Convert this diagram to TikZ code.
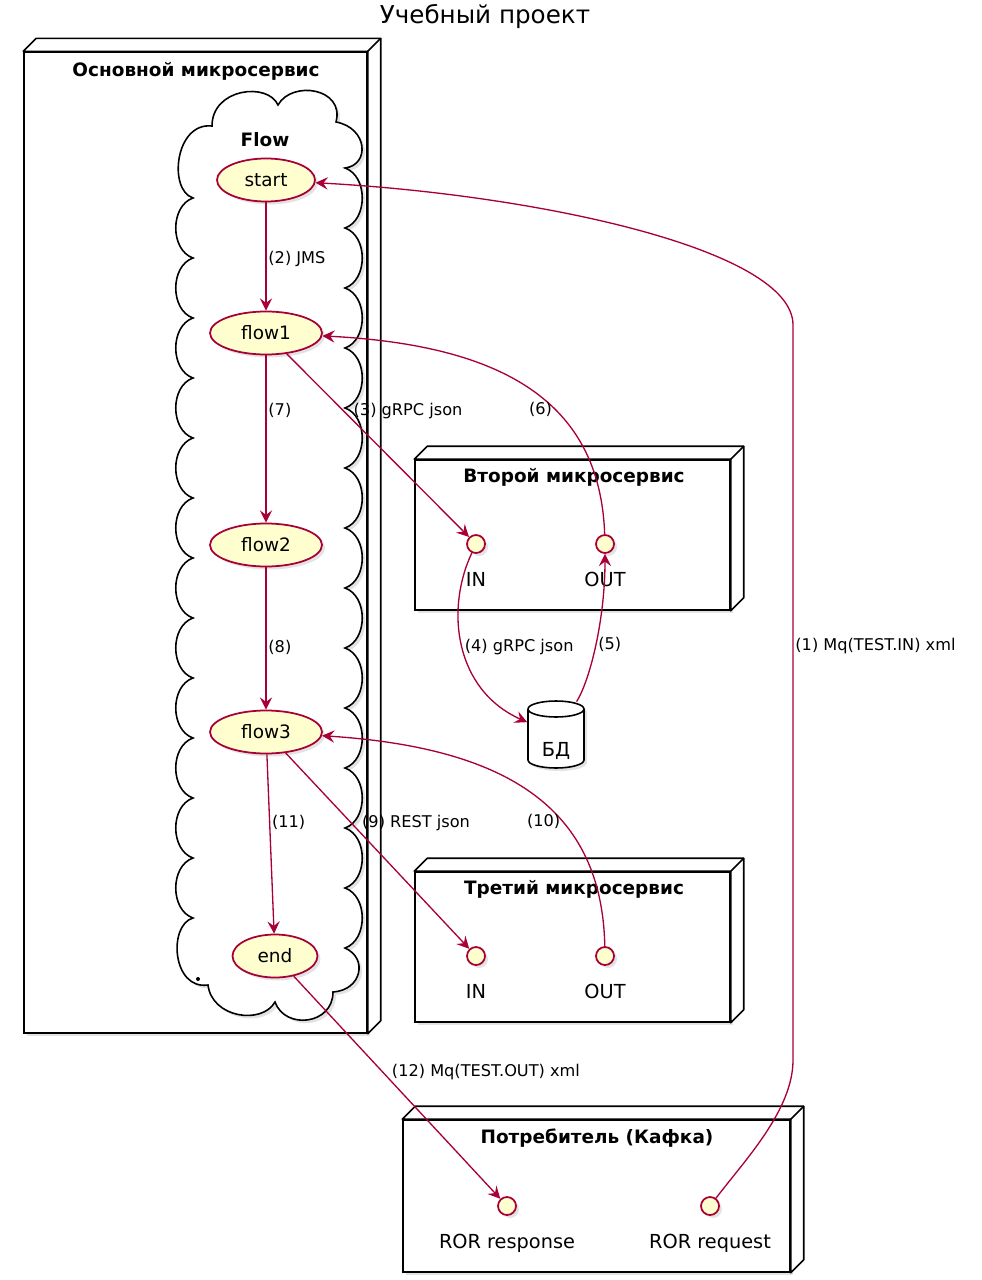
\documentclass[tikz,border=0pt]{standalone}
\usepackage{fontspec}
\setmainfont{DejaVu Sans}
\usetikzlibrary{calc,positioning,arrows.meta,shapes.geometric,shadows}
\definecolor{umlred}{HTML}{A80036}
\definecolor{umlfill}{HTML}{FEFECE}
\tikzset{
  shd/.style={drop shadow={opacity=0.22,shadow xshift=0.06cm,shadow yshift=-0.06cm}},
  srv/.style={rectangle,draw=black,line width=0.9pt,fill=white,inner sep=0pt,shd},
  srvback/.style={line width=0.9pt,black,line join=round},
  ttl/.style={font=\fontsize{10.5}{12}\selectfont\bfseries},
  cld/.style={draw=black,line width=0.9pt,fill=white,shd},
  uc/.style={ellipse,draw=umlred,line width=1pt,fill=umlfill,minimum height=0.86cm,inner sep=0pt,font=\fontsize{10.5}{12}\selectfont,shd},
  ifc/.style={circle,draw=umlred,line width=1pt,fill=umlfill,minimum size=0.36cm,inner sep=0pt,shd},
  ifclbl/.style={font=\fontsize{11}{13}\selectfont,inner sep=0pt,text height=0.75em,text depth=0.25em,label distance=0.38cm},
  dbline/.style={draw=black,line width=0.9pt,fill=white,shd},
  dbase/.style={rectangle,minimum width=1.14cm,minimum height=1.32cm,inner sep=0pt,text height=0.87cm,text depth=0pt,font=\fontsize{11}{13}\selectfont},
  lnk/.style={umlred,line width=0.75pt},
  arr/.style={lnk,-{Stealth[length=7pt,width=7pt,inset=2.6pt]}},
  lbl/.style={font=\fontsize{9.2}{11}\selectfont,inner sep=1pt,text=black},
}
\newcommand{\srvdepth}[1]{%
  \filldraw[srvback,fill=white] (#1.north west) -- ++(13,-13) -- ($(#1.north east)+(13,-13)$)
    -- ($(#1.south east)+(13,-13)$) -- (#1.south east) -- (#1.north east) -- cycle;
  \draw[srvback] (#1.north east) -- ++(13,-13);}

\begin{document}
\begin{tikzpicture}[x=0.02cm,y=-0.02cm]
  \useasboundingbox (0,0) rectangle (982,1280);
  \node[font=\fontsize{14}{16}\selectfont] (title) at (485,17) {Учебный проект};

  % main service with the flow cloud
  \node[srv,minimum width=6.86cm,minimum height=19.62cm] (main) at (195.5,542.5) {};
  \srvdepth{main}
  \node[ttl] (mainT) at (196,71) {Основной микросервис};
  \path[cld] (345,168)
    \foreach \y in {168,228,...,888} { .. controls (368,\y+8) and (368,\y+52) .. (345,\y+60) }
    .. controls (368,958) and (362,990) .. (333,992)
    .. controls (333,1025) and (285,1030) .. (275,1002)
    .. controls (262,1025) and (212,1018) .. (208,985)
    .. controls (172,990) and (168,925) .. (193,918)
    \foreach \y in {918,858,...,258} { .. controls (170,\y-8) and (170,\y-52) .. (193,\y-60) }
    .. controls (168,190) and (175,122) .. (212,126)
    .. controls (212,88) and (268,82) .. (278,105)
    .. controls (292,80) and (345,88) .. (336,122)
    .. controls (368,128) and (370,165) .. (345,168) -- cycle;
  \fill (198,979) circle (0.04cm);
  \node[ttl] (flowT) at (265,140) {Flow};
  \node[uc,minimum width=1.96cm] (start) at (266,180) {start};
  \node[uc,minimum width=2.24cm] (flow1) at (266,333) {flow1};
  \node[uc,minimum width=2.24cm] (flow2) at (266,545) {flow2};
  \node[uc,minimum width=2.24cm] (flow3) at (266,732) {flow3};
  \node[uc,minimum width=1.7cm] (flowend) at (275,956) {end};

  % second service and db
  \node[srv,minimum width=6.3cm,minimum height=3cm] (srv2) at (572.5,535) {};
  \srvdepth{srv2}
  \node[ttl] (srv2T) at (574,477) {Второй микросервис};
  \node[ifc,label={[ifclbl]below:IN}] (in2) at (476,544) {};
  \node[ifc,label={[ifclbl]below:OUT}] (out2) at (605,544) {};
  \draw[dbline] (528,709) -- (528,760) arc[start angle=180,end angle=360,x radius=0.56cm,y radius=0.16cm]
    -- (584,709) arc[start angle=0,end angle=180,x radius=0.56cm,y radius=0.16cm];
  \draw[line width=0.9pt] (528,709) arc[start angle=180,end angle=360,x radius=0.56cm,y radius=0.16cm];
  \node[dbase] (db) at (556,735) {БД};

  % third service
  \node[srv,minimum width=6.3cm,minimum height=3cm] (srv3) at (572.5,947) {};
  \srvdepth{srv3}
  \node[ttl] (srv3T) at (574,889) {Третий микросервис};
  \node[ifc,label={[ifclbl]below:IN}] (in3) at (476,956) {};
  \node[ifc,label={[ifclbl]below:OUT}] (out3) at (605,956) {};

  % consumer
  \node[srv,minimum width=7.74cm,minimum height=3.04cm] (kafka) at (596.5,1196) {};
  \srvdepth{kafka}
  \node[ttl] (kafkaT) at (597,1138) {Потребитель (Кафка)};
  \node[ifc,label={[ifclbl]below:ROR response}] (rresp) at (507,1206) {};
  \node[ifc,label={[ifclbl]below:ROR request}] (rreq) at (710,1206) {};

  % links
  \coordinate (c1a) at (793,1060);
  \coordinate (c1b) at (793,325);
  \draw[arr] (rreq) .. controls (745,1160) and (793,1110) .. (c1a) -- (c1b)
    node[lbl,pos=0.563,anchor=west]{(1) Mq(TEST.IN) xml}
    .. controls (793,250) and (540,195) .. (start);
  \draw[arr] (start) -- (flow1) node[lbl,pos=0.52,anchor=west]{(2) JMS};
  \draw[arr] (flow1) -- (in2) node[lbl,pos=0.31,anchor=west,xshift=0.16cm]{(3) gRPC json};
  \draw[arr] (in2) .. controls (445,610) and (455,690) .. (db) node[lbl,pos=0.5,anchor=west]{(4) gRPC json};
  \draw[arr] (db) .. controls (590,680) and (605,620) .. (out2) node[lbl,pos=0.5,anchor=west]{(5)};
  \draw[arr] (out2) .. controls (600,400) and (500,345) .. (flow1) node[lbl,pos=0.4,anchor=east]{(6)};
  \draw[arr] (flow1) -- (flow2) node[lbl,pos=0.33,anchor=west]{(7)};
  \draw[arr] (flow2) -- (flow3) node[lbl,pos=0.56,anchor=west]{(8)};
  \draw[arr] (flow3) -- (in3) node[lbl,pos=0.36,anchor=west,xshift=0.16cm]{(9) REST json};
  \draw[arr] (out3) .. controls (602,810) and (510,748) .. (flow3) node[lbl,pos=0.38,anchor=east]{(10)};
  \draw[arr] (flow3) -- (flowend) node[lbl,pos=0.38,anchor=west]{(11)};
  \draw[arr] (flowend) -- (rresp) node[lbl,pos=0.43,anchor=west,xshift=0.14cm]{(12) Mq(TEST.OUT) xml};
\end{tikzpicture}
\end{document}
